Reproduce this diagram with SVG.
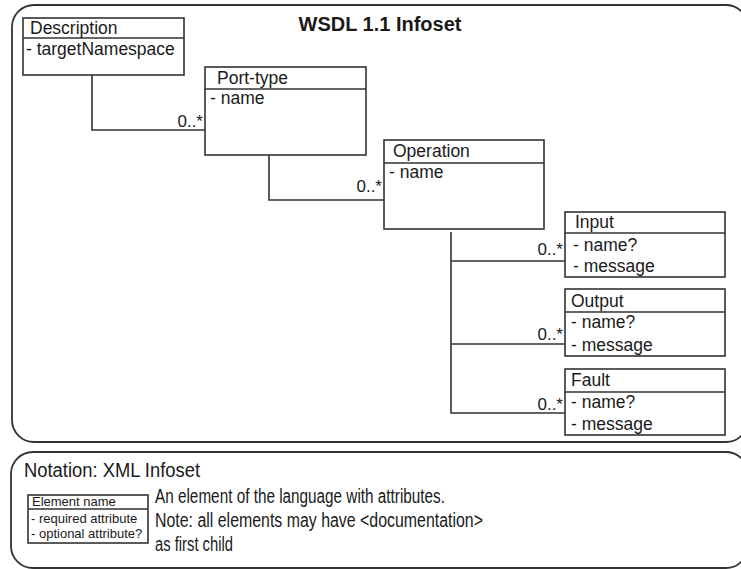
<svg xmlns="http://www.w3.org/2000/svg" width="741" height="569" viewBox="0 0 741 569">
<style>
.frame{fill:none;stroke:#333;stroke-width:1.8}
.box{fill:#fff;stroke:#333;stroke-width:1.6}
.div{stroke:#333;stroke-width:1.6}
.conn{fill:none;stroke:#333;stroke-width:1.6}
text{font-family:"Liberation Sans",Arial,sans-serif;fill:#1a1a1a}
.t{font-size:17.5px}
.lab{font-size:17px;text-anchor:end}
.title{font-size:20px;font-weight:bold;text-anchor:middle}
.sm{font-size:13px}
.head{font-size:19.5px}
.note{font-size:19.5px}
</style>
<rect class="frame" x="12" y="5" width="736" height="437" rx="22" ry="22"/>
<rect class="frame" x="11" y="452" width="737" height="116" rx="22" ry="22"/>
<text class="title" x="380" y="31">WSDL 1.1 Infoset</text>
<g id="connectors">
<polyline class="conn" points="92,75 92,130 205,130"/>
<polyline class="conn" points="269,155 269,200 384,200"/>
<polyline class="conn" points="451,232 451,413 565,413"/>
<line class="conn" x1="451" y1="261" x2="565" y2="261"/>
<line class="conn" x1="451" y1="344" x2="565" y2="344"/>
<text class="lab" x="203" y="127">0..*</text>
<text class="lab" x="382" y="192">0..*</text>
<text class="lab" x="563" y="255">0..*</text>
<text class="lab" x="563" y="340">0..*</text>
<text class="lab" x="563" y="410">0..*</text>
</g>
<g id="description">
<rect class="box" x="23" y="18" width="161" height="57"/>
<line class="div" x1="23" y1="38" x2="184" y2="38"/>
<text class="t" x="30" y="34">Description</text>
<text class="t" x="26" y="55">- targetNamespace</text>
</g>
<g id="port-type">
<rect class="box" x="205" y="67" width="161" height="88"/>
<line class="div" x1="205" y1="89" x2="366" y2="89"/>
<text class="t" x="217" y="84">Port-type</text>
<text class="t" x="210" y="104">- name</text>
</g>
<g id="operation">
<rect class="box" x="384" y="140" width="160" height="89"/>
<line class="div" x1="384" y1="163" x2="544" y2="163"/>
<text class="t" x="393" y="157">Operation</text>
<text class="t" x="389" y="178">- name</text>
</g>
<g id="input">
<rect class="box" x="565" y="212" width="160" height="65"/>
<line class="div" x1="565" y1="233" x2="725" y2="233"/>
<text class="t" x="575" y="228">Input</text>
<text class="t" x="573" y="251">- name?</text>
<text class="t" x="573" y="272">- message</text>
</g>
<g id="output">
<rect class="box" x="565" y="289" width="160" height="67"/>
<line class="div" x1="565" y1="312" x2="725" y2="312"/>
<text class="t" x="571" y="307">Output</text>
<text class="t" x="571" y="328">- name?</text>
<text class="t" x="571" y="351">- message</text>
</g>
<g id="fault">
<rect class="box" x="565" y="369" width="160" height="66"/>
<line class="div" x1="565" y1="392" x2="725" y2="392"/>
<text class="t" x="571" y="386">Fault</text>
<text class="t" x="571" y="408">- name?</text>
<text class="t" x="571" y="430">- message</text>
</g>
<g id="notation">
<text class="head" x="24" y="477" textLength="176" lengthAdjust="spacingAndGlyphs">Notation: XML Infoset</text>
<rect class="box" x="28" y="495" width="120" height="48" stroke-width="1.3"/>
<line class="div" x1="28" y1="509" x2="148" y2="509" stroke-width="1.3"/>
<text class="sm" x="32" y="506">Element name</text>
<text class="sm" x="31" y="523">- required attribute</text>
<text class="sm" x="31" y="538">- optional attribute?</text>
<text class="note" x="155" y="503" textLength="290" lengthAdjust="spacingAndGlyphs">An element of the language with attributes.</text>
<text class="note" x="155" y="527" textLength="328" lengthAdjust="spacingAndGlyphs">Note: all elements may have &lt;documentation&gt;</text>
<text class="note" x="155" y="551" textLength="78" lengthAdjust="spacingAndGlyphs">as first child</text>
</g>
</svg>
